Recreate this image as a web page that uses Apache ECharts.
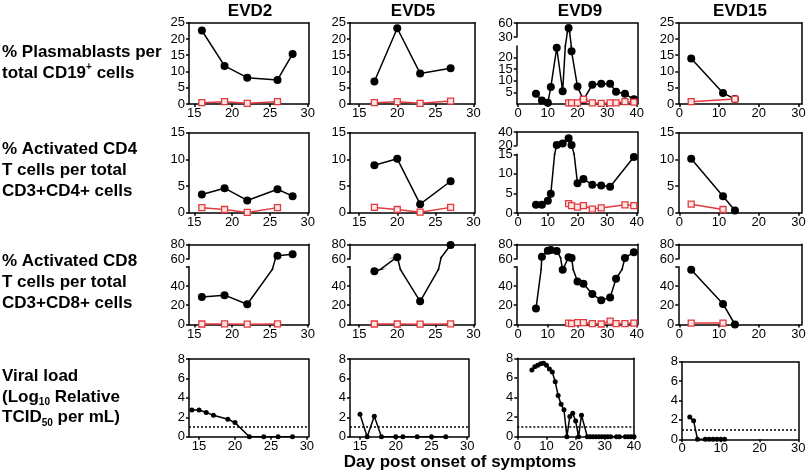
<!DOCTYPE html>
<html><head><meta charset="utf-8">
<script src="https://cdn.jsdelivr.net/npm/echarts@6/dist/echarts.min.js"></script>
<style>html,body{margin:0;padding:0;background:#fff}#c{width:810px;height:475px}</style>
</head><body><div id="c"></div>
<script>
// ---------------- DATA ----------------
const columnTitles = ['EVD2', 'EVD5', 'EVD9', 'EVD15'];
const xAxisTitle = 'Day post onset of symptoms';

// tick labels
const evd2XTicks = [15, 20, 25, 30];
const evd5XTicks = [15, 20, 25, 30];
const evd9XTicks = [0, 10, 20, 30, 40];
const evd15XTicks = [0, 10, 20, 30];
const plasmaYTicks = [0, 5, 10, 15, 20, 25];
const cd4YTicks = [0, 5, 10, 15];
const cd8LowerYTicks = [0, 20, 40];
const cd8UpperYTicks = [60, 80];
const viralYTicks = [0, 2, 4, 6, 8];
const evd9PlasmaLowerYTicks = [0, 5, 10, 15, 20, 25];
const evd9PlasmaUpperYTicks = [30, 60];
const evd9Cd4LowerYTicks = [0, 5, 10, 15];
const evd9Cd4UpperYTicks = [20, 40];
const viralDetectionLimit = 1;

// EVD2
const evd2Days = [16, 19, 22, 26, 28];
const evd2CtrlDays = [16, 19, 22, 26];
const evd2Plasma = [22.6, 11.7, 8.1, 7.4, 15.4];
const evd2PlasmaCtrl = [0.4, 0.7, 0.2, 0.7];
const evd2Cd4 = [3.4, 4.6, 2.3, 4.4, 3.1];
const evd2Cd4Ctrl = [0.95, 0.6, 0.05, 0.95];
const evd2Cd8 = [28.6, 30.4, 21.0, 64.5, 66.4];
const evd2Cd8Ctrl = [0.5, 0.6, 0.3, 0.6];
const evd2ViralDays = [14, 15, 16, 17, 19, 20, 22, 24, 26, 28];
const evd2Viral = [2.75, 2.75, 2.5, 2.2, 1.8, 1.45, 0, 0, 0, 0];

// EVD5
const evd5Days = [17, 20, 23, 27];
const evd5Plasma = [6.9, 23.3, 9.4, 11.0];
const evd5PlasmaCtrl = [0.4, 0.7, 0.2, 0.9];
const evd5Cd4 = [8.9, 10.1, 1.6, 5.9];
const evd5Cd4Ctrl = [0.98, 0.6, 0.1, 1.0];
const evd5Cd8 = [55.2, 62.3, 24.0, 79.0];
const evd5Cd8Ctrl = [0.5, 0.5, 0.3, 0.6];
const evd5ViralDays = [15, 16, 17, 18, 20, 21, 23, 25, 27];
const evd5Viral = [2.3, 0, 2.1, 0, 0, 0, 0, 0, 0];

// EVD9
const evd9Days = [6, 8, 10, 11, 13, 15, 17, 18, 20, 22, 25, 28, 31, 33, 36, 39];
const evd9CtrlDays = [17, 18, 20, 22, 25, 28, 31, 33, 36, 39];
const evd9Plasma = [4.4, 1.5, 0.5, 7.3, 24.2, 5.5, 49, 22.7, 7.5, 1.8, 8.3, 8.7, 8.7, 5.3, 4.4, 2.0];
const evd9PlasmaCtrl = [0.5, 0.5, 0.5, 2.0, 0.5, 0.3, 0.5, 0.5, 1.0, 0.8];
const evd9Cd4Days = [6, 8, 10, 11, 13, 15, 17, 18, 20, 22, 25, 28, 31, 39];
const evd9Cd4 = [2.1, 2.1, 3.1, 4.9, 20.7, 23, 30.8, 20.7, 7.6, 8.7, 7.2, 7.0, 6.7, 14.3];
const evd9Cd4CtrlDays = [17, 18, 20, 22, 25, 28, 36, 39];
const evd9Cd4Ctrl = [2.4, 1.9, 1.5, 1.9, 1.0, 1.3, 2.1, 1.9];
const evd9Cd8 = [16.5, 63.1, 71.3, 72.2, 70.9, 56.7, 62.3, 61.8, 44.6, 42.3, 31.6, 25.1, 28.1, 47.4, 61.8, 69.1];
const evd9Cd8Ctrl = [1.5, 1.0, 2.0, 2.0, 1.0, 0.5, 3.5, 1.0, 1.0, 1.5];
const evd9ViralDays = [5, 6, 7, 8, 9, 10, 11, 12, 13, 14, 15, 16, 17, 18, 19, 20, 21, 22, 24, 25, 26, 27, 28, 29, 30, 31, 32, 34, 35, 37, 38, 39, 40];
const evd9Viral = [6.8, 7.15, 7.3, 7.45, 7.5, 7.3, 6.9, 6.6, 5.6, 4.2, 3.3, 2.75, 0, 2.05, 2.4, 1.6, 0, 2.2, 0, 0, 0, 0, 0, 0, 0, 0, 0, 0, 0, 0, 0, 0, 0];

// EVD15
const evd15Days = [3, 11, 14];
const evd15Plasma = [14.0, 3.4, 1.5];
const evd15PlasmaCtrlDays = [3, 14];
const evd15PlasmaCtrl = [0.7, 1.5];
const evd15CtrlDays = [3, 11];
const evd15Cd4 = [10.1, 3.1, 0.4];
const evd15Cd4Ctrl = [1.6, 0.6];
const evd15Cd8 = [56.7, 21.3, 0];
const evd15Cd8Ctrl = [1.5, 1.5];
const evd15ViralDays = [2, 3, 4, 6, 7, 8, 9, 10, 11];
const evd15Viral = [2.3, 1.9, 0, 0, 0, 0, 0, 0, 0];

// ---------------- STYLE / LAYOUT ----------------
const FONT = 'Liberation Sans, Arial, Helvetica, sans-serif';
const RED = '#e23a3f';
const AX = {color: '#000', width: 1.5};

const colBox = [{l: 189, r: 308.5}, {l: 350, r: 475}, {l: 516.7, r: 637.7}, {l: 678.3, r: 801.7}];
const vlColBox = [{l: 189, r: 308.3}, {l: 350, r: 468.3}, {l: 517.3, r: 634}, {l: 682, r: 798.3}];
const rowBox = [{t: 22.7, b: 104}, {t: 132.7, b: 212.7}, {t: 244.3, b: 324.5}, {t: 359, b: 436.7}];
const xRange = [
  {min: 14.3, max: 30.1}, {min: 13.8, max: 30.2}, {min: -0.5, max: 40.3}, {min: -0.25, max: 30.8}
];
const vlXRange = [
  {min: 13.6, max: 30.2}, {min: 13.6, max: 30.15}, {min: 0, max: 40}, {min: 0, max: 30}
];
const xTicksByCol = [evd2XTicks, evd5XTicks, evd9XTicks, evd15XTicks];

const option = {animation: false, backgroundColor: '#fff', grid: [], xAxis: [], yAxis: [], series: [], graphic: []};

function addGrid(l, r, t, b) {
  option.grid.push({left: l, top: t, width: r - l, height: b - t, show: false});
  return option.grid.length - 1;
}
function addX(gi, rng, visible, ticks) {
  option.xAxis.push({
    type: 'value', gridIndex: gi, min: rng.min, max: rng.max, show: visible,
    splitLine: {show: false},
    axisLine: {show: true, onZero: false, lineStyle: AX},
    axisTick: {show: true, customValues: ticks, length: 3, lineStyle: AX},
    axisLabel: {show: true, customValues: ticks, margin: 3, color: '#000', fontSize: 13, fontFamily: FONT}
  });
  return option.xAxis.length - 1;
}
function addTopX(gi) {
  option.xAxis.push({
    type: 'value', gridIndex: gi, min: 0, max: 1, position: 'top',
    splitLine: {show: false}, axisLine: {show: true, onZero: false, lineStyle: AX},
    axisTick: {show: false}, axisLabel: {show: false}
  });
}
function addY(gi, min, max, visible, ticks, labels) {
  option.yAxis.push({
    type: 'value', gridIndex: gi, min: min, max: max, position: 'left', show: visible,
    splitLine: {show: false},
    axisLine: {show: true, onZero: false, lineStyle: AX},
    axisTick: {show: true, customValues: ticks || [], length: 3, lineStyle: AX},
    axisLabel: {show: true, customValues: labels || ticks || [], margin: 4, color: '#000', fontSize: 13, fontFamily: FONT}
  });
  return option.yAxis.length - 1;
}
function addRightY(gi) {
  option.yAxis.push({
    type: 'value', gridIndex: gi, min: 0, max: 1, position: 'right',
    splitLine: {show: false}, axisLine: {show: true, onZero: false, lineStyle: AX},
    axisTick: {show: false}, axisLabel: {show: false}
  });
  return option.yAxis.length - 1;
}
function pairs(days, vals) { return days.map((d, i) => [d, vals[i]]); }
function addSeries(xi, yi, s, small, dotted) {
  const black = s.kind === 'black';
  const ser = {
    type: 'line', xAxisIndex: xi, yAxisIndex: yi, data: pairs(s.days, s.vals),
    clip: true, silent: true, z: black ? 3 : 4,
    symbol: black ? 'circle' : 'rect',
    symbolSize: black ? (small ? 5 : 8) : 6,
    lineStyle: {color: black ? '#000' : RED, width: 1.5},
    itemStyle: black ? {color: '#000'} : {color: '#fbe6e6', borderColor: RED, borderWidth: 1.3},
    emphasis: {disabled: true}
  };
  if (dotted) {
    ser.markLine = {silent: true, symbol: ['none', 'none'], label: {show: false},
      lineStyle: {type: [2, 2], color: '#000', width: 1.5}, data: [{yAxis: viralDetectionLimit}]};
  }
  option.series.push(ser);
}

// simple panel: one y axis carrying the series
function simplePanel(box, t, b, rng, xticks, yMax, yTicks, seriesList, small, dotted) {
  const gi = addGrid(box.l, box.r, t, b);
  const xi = addX(gi, rng, true, xticks);
  addTopX(gi);
  addRightY(gi);
  const yi = addY(gi, 0, yMax, true, yTicks);
  seriesList.forEach((s, k) => addSeries(xi, yi, s, small, dotted && k === 0));
}
// broken-axis panel: axis segments (drawn) + series bands (hidden axes, clipped)
function brokenPanel(box, t, b, rng, xticks, axisSegs, bands, seriesList) {
  const gi = addGrid(box.l, box.r, t, b);
  addX(gi, rng, true, xticks);
  addTopX(gi);
  addRightY(gi);
  axisSegs.forEach(seg => {
    const sg = addGrid(box.l, box.r, seg.t, seg.b);
    addX(sg, rng, false, []);
    addY(sg, seg.min, seg.max, true, seg.ticks, seg.labels);
  });
  bands.forEach(bd => {
    const sg = addGrid(box.l, box.r, bd.t, bd.b);
    const xi = addX(sg, rng, false, []);
    const yi = addY(sg, bd.min, bd.max, false, []);
    seriesList.forEach(s => addSeries(xi, yi, s, false, false));
  });
}
const blk = (days, vals) => ({kind: 'black', days, vals});
const red = (days, vals) => ({kind: 'red', days, vals});

const rowSeries = [
  [[blk(evd2Days, evd2Plasma), red(evd2CtrlDays, evd2PlasmaCtrl)],
   [blk(evd5Days, evd5Plasma), red(evd5Days, evd5PlasmaCtrl)],
   [blk(evd9Days, evd9Plasma), red(evd9CtrlDays, evd9PlasmaCtrl)],
   [blk(evd15Days, evd15Plasma), red(evd15PlasmaCtrlDays, evd15PlasmaCtrl)]],
  [[blk(evd2Days, evd2Cd4), red(evd2CtrlDays, evd2Cd4Ctrl)],
   [blk(evd5Days, evd5Cd4), red(evd5Days, evd5Cd4Ctrl)],
   [blk(evd9Cd4Days, evd9Cd4), red(evd9Cd4CtrlDays, evd9Cd4Ctrl)],
   [blk(evd15Days, evd15Cd4), red(evd15CtrlDays, evd15Cd4Ctrl)]],
  [[blk(evd2Days, evd2Cd8), red(evd2CtrlDays, evd2Cd8Ctrl)],
   [blk(evd5Days, evd5Cd8), red(evd5Days, evd5Cd8Ctrl)],
   [blk(evd9Days, evd9Cd8), red(evd9CtrlDays, evd9Cd8Ctrl)],
   [blk(evd15Days, evd15Cd8), red(evd15CtrlDays, evd15Cd8Ctrl)]],
  [[blk(evd2ViralDays, evd2Viral)], [blk(evd5ViralDays, evd5Viral)],
   [blk(evd9ViralDays, evd9Viral)], [blk(evd15ViralDays, evd15Viral)]]
];

// CD8 row break geometry
const cd8Axis = [
  {min: 0, max: 60, t: 266.7, b: 324.5, ticks: [...cd8LowerYTicks, 60], labels: cd8LowerYTicks},
  {min: 60, max: 80, t: 244.3, b: 259, ticks: cd8UpperYTicks}
];
const cd8Bands = [
  {min: 0, max: 57, t: 269.5, b: 324.5},
  {min: 57, max: 62, t: 257.5, b: 269.5},
  {min: 62, max: 80, t: 244.3, b: 257.5}
];

for (let c = 0; c < 4; c++) {
  // row 0 plasmablasts
  if (c === 2) {
    brokenPanel(colBox[c], 23, 104, xRange[c], xTicksByCol[c],
      [{min: 0, max: 25, t: 46, b: 104, ticks: evd9PlasmaLowerYTicks},
       {min: 30, max: 60, t: 23, b: 37, ticks: evd9PlasmaUpperYTicks}],
      [{min: 0, max: 25, t: 46, b: 104},
       {min: 25, max: 40, t: 32.3, b: 46},
       {min: 40, max: 60, t: 23, b: 32.3}],
      rowSeries[0][c]);
  } else {
    simplePanel(colBox[c], rowBox[0].t, rowBox[0].b, xRange[c], xTicksByCol[c], 25, plasmaYTicks, rowSeries[0][c], false, false);
  }
  // row 1 CD4
  if (c === 2) {
    brokenPanel(colBox[c], 132, 213, xRange[c], xTicksByCol[c],
      [{min: 0, max: 15, t: 154.3, b: 213, ticks: evd9Cd4LowerYTicks},
       {min: 20, max: 40, t: 132, b: 145.5, ticks: evd9Cd4UpperYTicks}],
      [{min: 0, max: 15, t: 154.3, b: 213},
       {min: 15, max: 20.5, t: 145.2, b: 154.3},
       {min: 20.5, max: 40, t: 132, b: 145.2}],
      rowSeries[1][c]);
  } else {
    simplePanel(colBox[c], rowBox[1].t, rowBox[1].b, xRange[c], xTicksByCol[c], 15, cd4YTicks, rowSeries[1][c], false, false);
  }
  // row 2 CD8
  brokenPanel(colBox[c], rowBox[2].t, rowBox[2].b, xRange[c], xTicksByCol[c], cd8Axis, cd8Bands, rowSeries[2][c]);
  // row 3 viral load
  const t4 = c === 3 ? 361.7 : (c === 2 ? 358.3 : 359);
  const b4 = c === 3 ? 439.3 : 436.7;
  simplePanel(vlColBox[c], t4, b4, vlXRange[c], xTicksByCol[c], 8, viralYTicks, rowSeries[3][c], true, true);
}

// ---------------- TEXT ----------------
const titleX = [250, 413, 580, 740];
columnTitles.forEach((tt, i) => option.graphic.push({
  type: 'text', x: titleX[i], y: 11, silent: true,
  style: {text: tt, fontFamily: FONT, fontWeight: 'bold', fontSize: 17, fill: '#000',
    textAlign: 'center', align: 'center', textVerticalAlign: 'middle', verticalAlign: 'middle'}
}));

const richStyles = {
  sub: {fontFamily: FONT, fontWeight: 'bold', fontSize: 10, lineHeight: 10, verticalAlign: 'bottom', fill: '#000'},
  sup: {fontFamily: FONT, fontWeight: 'bold', fontSize: 10, lineHeight: 10, verticalAlign: 'top', fill: '#000'}
};
const rowLabelTexts = [
  '% Plasmablasts per\ntotal CD19{sup|+} cells',
  '% Activated CD4\nT cells per total\nCD3+CD4+ cells',
  '% Activated CD8\nT cells per total\nCD3+CD8+ cells',
  'Viral load\n(Log{sub|10} Relative\nTCID{sub|50} per mL)'
];
const rowLabelY = [62.5, 170.5, 282.5, 397];
rowLabelTexts.forEach((tt, i) => option.graphic.push({
  type: 'text', x: 2, y: rowLabelY[i], silent: true,
  style: {text: tt, rich: richStyles, fontFamily: FONT, fontWeight: 'bold', fontSize: 17, lineHeight: 20.7,
    fill: '#000', textAlign: 'left', align: 'left', textVerticalAlign: 'middle', verticalAlign: 'middle'}
}));
option.graphic.push({
  type: 'text', x: 460, y: 462, silent: true,
  style: {text: xAxisTitle, fontFamily: FONT, fontWeight: 'bold', fontSize: 17, fill: '#000',
    textAlign: 'center', align: 'center', textVerticalAlign: 'middle', verticalAlign: 'middle'}
});

const chart = echarts.init(document.getElementById('c'), null, {renderer: 'canvas'});
chart.setOption(option);
</script></body></html>
